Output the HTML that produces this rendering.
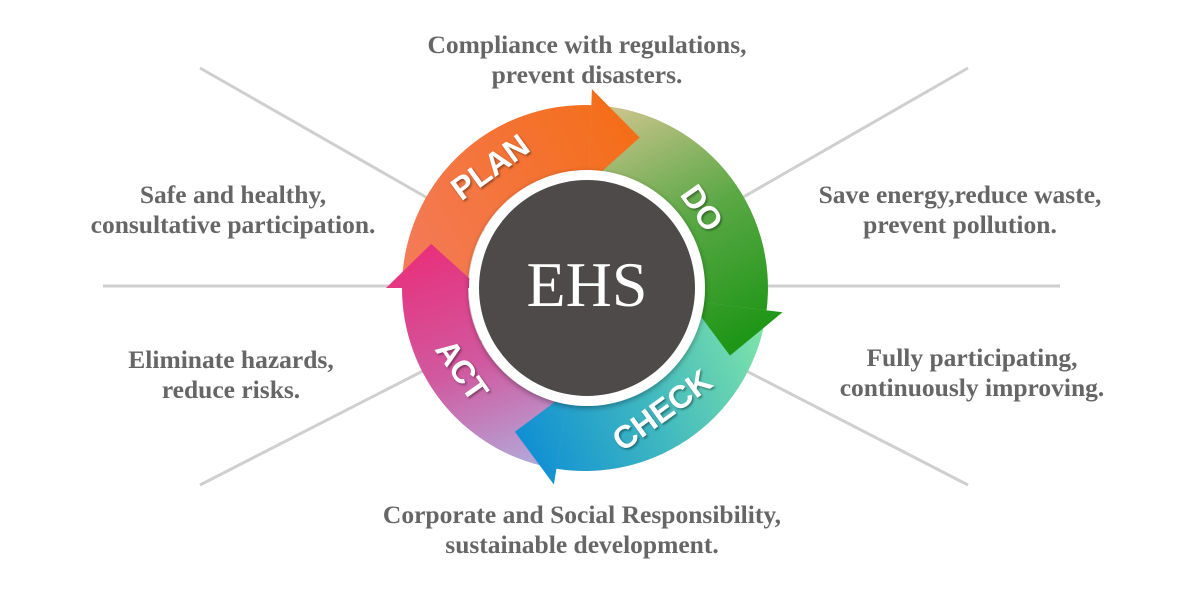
<!DOCTYPE html>
<html><head><style>
html,body{margin:0;padding:0;background:#fff;}
svg{display:block}
.t{font-family:"Liberation Serif",serif;font-weight:bold;font-size:25.5px;fill:#666;text-anchor:middle}
.l{font-family:"Liberation Sans Narrow","Liberation Sans",sans-serif;font-weight:bold;font-size:32px;fill:#fff;text-anchor:middle;dominant-baseline:central}
</style></head><body>
<svg width="1200" height="600" viewBox="0 0 1200 600" xmlns="http://www.w3.org/2000/svg">
<defs>
<linearGradient id="gP" gradientUnits="userSpaceOnUse" x1="400" y1="250" x2="640" y2="110"><stop offset="0" stop-color="#f47a58"/><stop offset="1" stop-color="#f46d14"/></linearGradient>
<linearGradient id="gD" gradientUnits="userSpaceOnUse" x1="620" y1="105" x2="740" y2="340"><stop offset="0" stop-color="#cbc48c"/><stop offset="0.5" stop-color="#5aa845"/><stop offset="1" stop-color="#1f9617"/></linearGradient>
<linearGradient id="gC" gradientUnits="userSpaceOnUse" x1="770" y1="340" x2="520" y2="450"><stop offset="0" stop-color="#80e4a8"/><stop offset="0.5" stop-color="#40b8c0"/><stop offset="1" stop-color="#0e8ed4"/></linearGradient>
<linearGradient id="gA" gradientUnits="userSpaceOnUse" x1="500" y1="470" x2="420" y2="250"><stop offset="0" stop-color="#b4a4d6"/><stop offset="0.45" stop-color="#d05aa0"/><stop offset="1" stop-color="#e8307c"/></linearGradient>
<filter id="sh" x="-20%" y="-20%" width="140%" height="140%"><feDropShadow dx="0" dy="2" stdDeviation="3" flood-color="#000" flood-opacity="0.35"/></filter>
<filter id="ts"><feDropShadow dx="1.5" dy="1.5" stdDeviation="1" flood-color="#000" flood-opacity="0.4"/></filter>
</defs>
<g stroke="#cfcfcf" stroke-width="3">
<line x1="200" y1="68" x2="585" y2="288"/>
<line x1="968" y1="68" x2="585" y2="288"/>
<line x1="103" y1="286" x2="1060" y2="286"/>
<line x1="200" y1="485" x2="585" y2="288"/>
<line x1="968" y1="485" x2="585" y2="288"/>
</g>
<path d="M402,288 A183,183 0 0 1 593,105.2 L590.1,171.1 A117,117 0 0 0 468,288 Z" fill="url(#gP)"/>
<path d="M591.4,105.1 A183,183 0 0 1 766.4,311.9 L701,303.3 A117,117 0 0 0 589.1,171.1 Z" fill="url(#gD)"/>
<path d="M766.6,310.3 A183,183 0 0 1 554.8,468.5 L565.7,403.4 A117,117 0 0 0 701.1,302.3 Z" fill="url(#gC)"/>
<path d="M556.4,468.7 A183,183 0 0 1 402,286.4 L468,287 A117,117 0 0 0 566.7,403.6 Z" fill="url(#gA)"/>
<path d="M591.9,89.1 L639.7,137.6 L588.7,183.1 Z" fill="url(#gP)"/>
<path d="M782.5,312.3 L730,355.6 L689.2,300.8 Z" fill="url(#gD)"/>
<path d="M553.9,484.6 L514.9,431.8 L568.6,391.7 Z" fill="url(#gC)"/>
<path d="M386,288 L431.2,243.9 L480,288 Z" fill="url(#gA)"/>
<circle cx="587" cy="288" r="118" fill="#fff" filter="url(#sh)"/>
<circle cx="587" cy="288" r="108" fill="#4d4a49"/>
<text x="587" y="306" font-family="Liberation Serif,serif" font-size="64" fill="#fff" text-anchor="middle">EHS</text>
<g filter="url(#ts)">
<text class="l" transform="translate(490,167) rotate(-36)">PLAN</text>
<text class="l" transform="translate(702,208) rotate(55)">DO</text>
<text class="l" transform="translate(662,410) rotate(-36)">CHECK</text>
<text class="l" transform="translate(462,370) rotate(55)">ACT</text>
</g>
<text class="t" x="587" y="53">Compliance with regulations,</text>
<text class="t" x="587" y="83">prevent disasters.</text>
<text class="t" x="233" y="203">Safe and healthy,</text>
<text class="t" x="233" y="233">consultative participation.</text>
<text class="t" x="960" y="203">Save energy,reduce waste,</text>
<text class="t" x="960" y="233">prevent pollution.</text>
<text class="t" x="231" y="368">Eliminate hazards,</text>
<text class="t" x="231" y="398">reduce risks.</text>
<text class="t" x="972" y="366">Fully participating,</text>
<text class="t" x="972" y="396">continuously improving.</text>
<text class="t" x="582" y="523">Corporate and Social Responsibility,</text>
<text class="t" x="582" y="553">sustainable development.</text>
</svg>
</body></html>
